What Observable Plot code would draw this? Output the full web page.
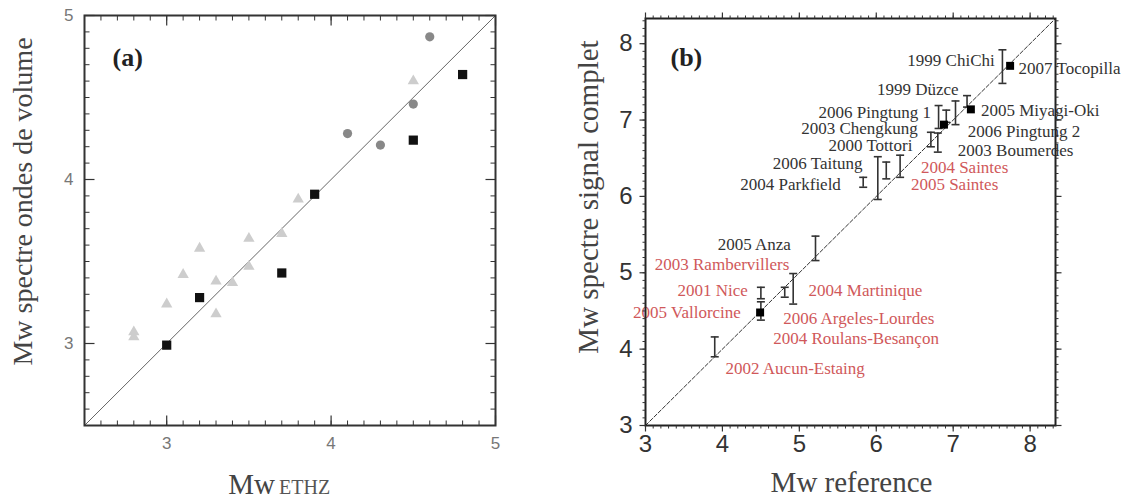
<!DOCTYPE html>
<html><head><meta charset="utf-8">
<script src="https://cdn.jsdelivr.net/npm/d3@7"></script>
<script src="https://cdn.jsdelivr.net/npm/@observablehq/plot@0.6"></script>
<style>
body{margin:0;background:#fff;}
#wrap{position:relative;width:1127px;height:498px;overflow:hidden;background:#fff;}
#wrap svg{position:absolute;top:0;}
</style></head><body><div id="wrap"></div>
<script>
// ---------- Panel (a) data ----------
const aDomain = [2.5, 5];
const aTicks = [3, 4, 5];
const aDiag = [2.5, 5];
const aSquareX = [3.0, 3.2, 3.7, 3.9, 4.5, 4.8];
const aSquareY = [2.99, 3.28, 3.43, 3.91, 4.24, 4.64];
const aCircleX = [4.1, 4.3, 4.5, 4.6];
const aCircleY = [4.28, 4.21, 4.46, 4.87];
const aTriX = [2.8, 2.8, 3.0, 3.1, 3.2, 3.3, 3.3, 3.4, 3.5, 3.5, 3.7, 3.8, 4.5];
const aTriY = [3.04, 3.07, 3.24, 3.42, 3.58, 3.18, 3.38, 3.37, 3.47, 3.64, 3.67, 3.88, 4.60];

// ---------- Panel (b) data ----------
const bDomain = [3, 8.33];
const bTicks = [3, 4, 5, 6, 7, 8];
const bDiag = [3, 8.33];
const bErrX  = [7.64, 7.18, 7.03, 6.81, 6.91, 6.71, 6.80, 6.31, 6.13, 6.02, 5.83, 5.21, 4.92, 4.81, 4.50, 4.50, 3.90];
const bErrLo = [7.48, 7.17, 6.94, 6.89, 6.97, 6.65, 6.58, 6.25, 6.23, 5.96, 6.12, 5.16, 4.59, 4.68, 4.66, 4.38, 3.90];
const bErrHi = [7.92, 7.32, 7.25, 7.19, 7.13, 6.84, 6.83, 6.54, 6.45, 6.52, 6.25, 5.48, 4.99, 4.81, 4.81, 4.62, 4.16];
const bSquareX = [7.74, 7.23, 6.88, 4.49];
const bSquareY = [7.71, 7.14, 6.94, 4.48];
const bLabelText = ["1999 ChiChi", "2007 Tocopilla", "1999 Düzce", "2006 Pingtung 1", "2005 Miyagi-Oki",
  "2003 Chengkung", "2006 Pingtung 2", "2000 Tottori", "2003 Boumerdes", "2006 Taitung", "2004 Parkfield",
  "2004 Saintes", "2005 Saintes", "2005 Anza", "2003 Rambervillers", "2001 Nice", "2005 Vallorcine",
  "2004 Martinique", "2006 Argeles-Lourdes", "2004 Roulans-Besançon", "2002 Aucun-Estaing"];
const bLabelX = [7.54, 7.85, 7.07, 6.71, 7.36, 6.54, 7.19, 6.47, 7.06, 5.82, 5.54,
  6.58, 6.45, 4.89, 4.87, 4.33, 4.24, 5.12, 4.79, 4.66, 4.04];
const bLabelY = [7.78, 7.68, 7.40, 7.10, 7.13, 6.89, 6.85, 6.67, 6.60, 6.43, 6.16,
  6.38, 6.15, 5.37, 5.11, 4.77, 4.48, 4.77, 4.40, 4.14, 3.75];
const bLabelSide = ["end","start","end","end","start","end","start","end","start","end","end",
  "start","start","end","end","end","end","start","start","start","start"];
const bLabelGroup = ["world","world","world","world","world","world","world","world","world","world","world",
  "france","france","world","france","france","france","france","france","france","france"];

// ---------- helpers ----------
const serif = "'Liberation Serif','Times New Roman',serif";
const sans = "'Liberation Sans',Arial,sans-serif";
const groupColor = {world: "#333333", france: "#d0585a"};
const len = size => Math.sqrt(size / Math.PI);
const capSymbol = {draw(ctx, size) { const r = len(size); ctx.moveTo(-r, 0); ctx.lineTo(r, 0); }};
const tickUp    = {draw(ctx, size) { ctx.moveTo(0, 0); ctx.lineTo(0, -len(size)); }};
const tickDown  = {draw(ctx, size) { ctx.moveTo(0, 0); ctx.lineTo(0, len(size)); }};
const tickLeft  = {draw(ctx, size) { ctx.moveTo(0, 0); ctx.lineTo(-len(size), 0); }};
const tickRight = {draw(ctx, size) { ctx.moveTo(0, 0); ctx.lineTo(len(size), 0); }};
const minor = (lo, hi) => d3.range(Math.round(lo * 10), Math.round(hi * 10) + 1).map(d => d / 10);

const aSquares = aSquareX.map((x, i) => ({x, y: aSquareY[i]}));
const aCircles = aCircleX.map((x, i) => ({x, y: aCircleY[i]}));
const aTris = aTriX.map((x, i) => ({x, y: aTriY[i]}));
const bErr = bErrX.map((x, i) => ({x, lo: bErrLo[i], hi: bErrHi[i]}));
const bSquares = bSquareX.map((x, i) => ({x, y: bSquareY[i]}));
const bLabels = bLabelText.map((t, i) => ({t, x: bLabelX[i], y: bLabelY[i], side: bLabelSide[i], color: groupColor[bLabelGroup[i]]}));

const aMinor = minor(2.5, 5);
const bMinor = minor(3, 8.3);

// tick marks along the four frame edges, drawn as dots with line symbols
function edgeTicks(vals, domain, r, stroke, sw, inward) {
  const [lo, hi] = domain;
  const o = {r, stroke, strokeWidth: sw};
  return [
    Plot.dot(vals, {x: d => d, y: () => lo, symbol: inward ? tickUp : tickDown, ...o}),
    Plot.dot(vals, {x: d => d, y: () => hi, symbol: inward ? tickDown : tickUp, ...o}),
    Plot.dot(vals, {y: d => d, x: () => lo, symbol: inward ? tickRight : tickLeft, ...o}),
    Plot.dot(vals, {y: d => d, x: () => hi, symbol: inward ? tickLeft : tickRight, ...o})
  ];
}

// ---------- Panel (a) ----------
const plotA = Plot.plot({
  width: 560, height: 498,
  marginLeft: 84, marginRight: 65, marginTop: 15, marginBottom: 73,
  x: {domain: aDomain, axis: null},
  y: {domain: aDomain, axis: null},
  style: {fontFamily: sans, background: "transparent", overflow: "visible"},
  marks: [
    Plot.line(aDiag, {x: d => d, y: d => d, stroke: "#666", strokeWidth: 1}),
    Plot.dot(aTris, {x: "x", y: "y", symbol: "triangle", r: 4.2, fill: "#cdcdcd"}),
    Plot.dot(aCircles, {x: "x", y: "y", symbol: "circle", r: 4.6, fill: "#888"}),
    Plot.dot(aSquares, {x: "x", y: "y", symbol: "square", r: 5.2, fill: "#111"}),
    Plot.frame({stroke: "#333", strokeWidth: 2}),
    ...edgeTicks(aMinor, aDomain, 5, "#333", 1, true),
    ...edgeTicks(aTicks, aDomain, 10, "#333", 1.2, true),
    Plot.axisX({anchor: "bottom", ticks: aTicks, tickFormat: d => String(d), tickSize: 0, tickPadding: 11, fill: "#777", fontSize: 17, label: null}),
    Plot.axisY({anchor: "left", ticks: aTicks, tickFormat: d => String(d), tickSize: 0, tickPadding: 11, fill: "#777", fontSize: 17, label: null}),
    Plot.text(["(a)"], {frameAnchor: "top-left", dx: 28, dy: 42, textAnchor: "start", lineAnchor: "middle",
      fontFamily: serif, fontWeight: "bold", fontSize: 26, fill: "#222"}),
    Plot.text(["Mw spectre ondes de volume"], {frameAnchor: "left", rotate: -90, dx: -61, dy: -19,
      textAnchor: "middle", lineAnchor: "middle", fontFamily: serif, fontSize: 28, fill: "#444"}),
    Plot.text(["Mw"], {frameAnchor: "bottom", dx: -15, dy: 68, textAnchor: "end", lineAnchor: "bottom",
      fontFamily: serif, fontSize: 29, fill: "#444"}),
    Plot.text(["ETHZ"], {frameAnchor: "bottom", dx: -11, dy: 68, textAnchor: "start", lineAnchor: "bottom",
      fontFamily: serif, fontSize: 20, fill: "#555"})
  ]
});

// ---------- Panel (b) ----------
const plotB = Plot.plot({
  width: 567, height: 498,
  marginLeft: 85, marginRight: 72, marginTop: 18, marginBottom: 73,
  x: {domain: bDomain, axis: null},
  y: {domain: bDomain, axis: null},
  color: {type: "identity"},
  style: {fontFamily: sans, background: "transparent", overflow: "visible"},
  marks: [
    Plot.line(bDiag, {x: d => d, y: d => d, stroke: "#333", strokeWidth: 1, strokeDasharray: "4,2"}),
    Plot.ruleX(bErr, {x: "x", y1: "lo", y2: "hi", stroke: "#333", strokeWidth: 1.6}),
    Plot.dot(bErr, {x: "x", y: "lo", symbol: capSymbol, r: 4, stroke: "#333", strokeWidth: 1.6}),
    Plot.dot(bErr, {x: "x", y: "hi", symbol: capSymbol, r: 4, stroke: "#333", strokeWidth: 1.6}),
    Plot.dot(bSquares, {x: "x", y: "y", symbol: "square", r: 4.5, fill: "#000"}),
    Plot.text(bLabels.filter(d => d.side === "end"), {x: "x", y: "y", text: "t", fill: "color", textAnchor: "end",
      lineAnchor: "middle", fontFamily: serif, fontSize: 17}),
    Plot.text(bLabels.filter(d => d.side === "start"), {x: "x", y: "y", text: "t", fill: "color", textAnchor: "start",
      lineAnchor: "middle", fontFamily: serif, fontSize: 17}),
    Plot.frame({stroke: "#222", strokeWidth: 2}),
    ...edgeTicks(bMinor, bDomain, 3, "#333", 1, false),
    ...edgeTicks(bTicks, bDomain, 6, "#333", 1.2, false),
    Plot.axisX({anchor: "bottom", ticks: bTicks, tickFormat: d => String(d), tickSize: 0, tickPadding: 9, fill: "#333", fontSize: 24, label: null}),
    Plot.axisY({anchor: "left", ticks: bTicks, tickFormat: d => String(d), tickSize: 0, tickPadding: 13, fill: "#333", fontSize: 24, label: null}),
    Plot.text(["(b)"], {frameAnchor: "top-left", dx: 25, dy: 39, textAnchor: "start", lineAnchor: "middle",
      fontFamily: serif, fontWeight: "bold", fontSize: 26, fill: "#222"}),
    Plot.text(["Mw spectre signal complet"], {frameAnchor: "left", rotate: -90, dx: -57, dy: -25,
      textAnchor: "middle", lineAnchor: "middle", fontFamily: serif, fontSize: 29, fill: "#444"}),
    Plot.text(["Mw reference"], {frameAnchor: "bottom", dx: 1, dy: 66, lineAnchor: "bottom",
      fontFamily: serif, fontSize: 29, fill: "#444"})
  ]
});

const wrap = document.getElementById("wrap");
plotA.style.left = "0px";
plotB.style.left = "560px";
wrap.appendChild(plotA);
wrap.appendChild(plotB);
</script>
</body></html>
